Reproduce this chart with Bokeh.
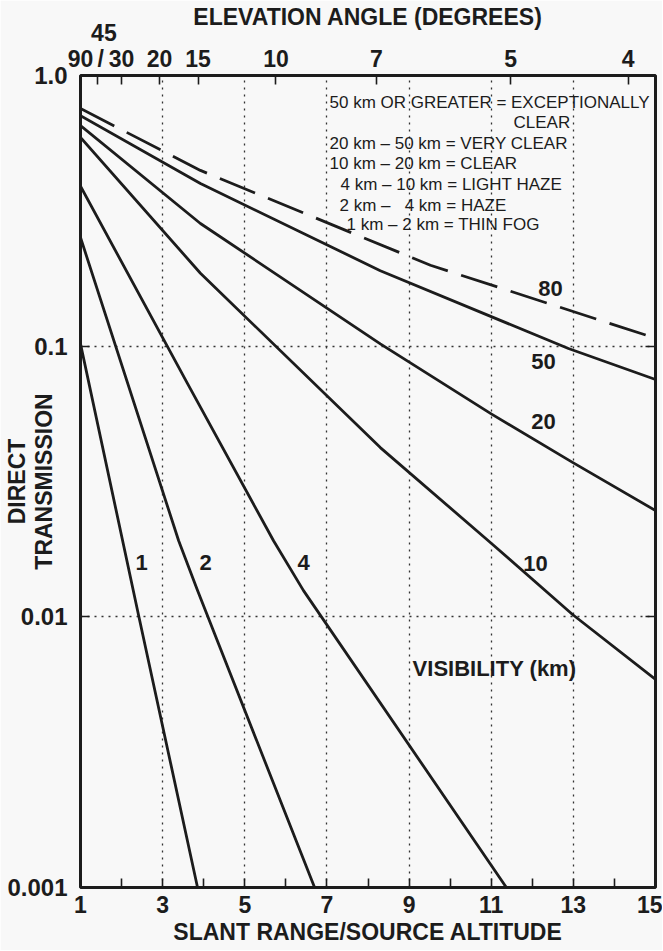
import math
from bokeh.plotting import figure
from bokeh.models import LinearAxis, LogAxis, FixedTicker, Range1d, Label
from bokeh.embed import file_html
from bokeh.resources import INLINE

# ---------------- data ----------------
visibility_km = [1, 2, 4, 10, 20, 50, 80]

range_vis1 = [1.0, 2.41, 3.85]
trans_vis1 = [0.102, 0.0102, 0.001]
range_vis2 = [1.0, 3.39, 3.85, 6.70]
trans_vis2 = [0.252, 0.0191, 0.0125, 0.001]
range_vis4 = [1.0, 3.6, 5.7, 6.43, 11.37]
trans_vis4 = [0.39, 0.073, 0.0191, 0.0125, 0.001]
range_vis10 = [1.0, 3.92, 8.3, 11.0, 12.98, 15.0]
trans_vis10 = [0.59, 0.186, 0.0422, 0.0187, 0.0102, 0.00587]
range_vis20 = [1.0, 3.92, 8.3, 11.0, 12.98, 15.0]
trans_vis20 = [0.653, 0.284, 0.102, 0.0562, 0.0372, 0.0247]
range_vis50 = [1.0, 3.92, 8.3, 12.88, 15.0]
trans_vis50 = [0.711, 0.399, 0.19, 0.098, 0.0753]
range_vis80 = [1.0, 3.92, 9.52, 15.0]
trans_vis80 = [0.755, 0.446, 0.199, 0.107]

x_major_ticks = [1, 3, 5, 7, 9, 11, 13, 15]
x_minor_ticks = [2, 4, 6, 8, 10, 12, 14]
x_grid_ticks = [3, 5, 7, 9, 11, 13]
y_ticks = [0.001, 0.01, 0.1, 1.0]
y_tick_labels = ["0.001", "0.01", "0.1", "1.0"]
y_grid_ticks = [0.01, 0.1]

NB = "\u00a0"
elevation_deg = [90, 45, 30, 20, 15, 10, 7, 5, 4]
elevation_labels = ["90", NB + NB + "45\n" + NB + "/", "30", "20", "15", "10", "7", "5", "4"]

legend_lines = [
    "50 km OR GREATER = EXCEPTIONALLY",
    "CLEAR",
    "20 km \u2013 50 km = VERY CLEAR",
    "10 km \u2013 20 km = CLEAR",
    "4 km \u2013 10 km = LIGHT HAZE",
    "2 km \u2013" + NB + "\u2007" + "4 km = HAZE",
    "1 km \u2013 2 km = THIN FOG",
]

# ---------------- styling ----------------
INK = "#1c1c1c"
BG = "#f8f8f8"
FONT = "Liberation Sans"

p = figure(width=662, height=950, x_range=Range1d(1, 15), y_range=Range1d(0.001, 1.0),
           y_axis_type="log", output_backend="svg", toolbar_location=None,
           min_border_left=80, min_border_right=7, min_border_top=75, min_border_bottom=63,
           background_fill_color=BG, border_fill_color=BG)
p.outline_line_color = INK
p.outline_line_width = 3

# curves
curves = [
    (range_vis1, trans_vis1, "solid"),
    (range_vis2, trans_vis2, "solid"),
    (range_vis4, trans_vis4, "solid"),
    (range_vis10, trans_vis10, "solid"),
    (range_vis20, trans_vis20, "solid"),
    (range_vis50, trans_vis50, "solid"),
    (range_vis80, trans_vis80, "38 14"),
]
for xs, ys, dash in curves:
    p.line(xs, ys, line_color=INK, line_width=2.8, line_dash=dash, line_join="round")

# bottom axis
xa = p.xaxis[0]
xa.ticker = FixedTicker(ticks=x_major_ticks, minor_ticks=x_minor_ticks)
xa.major_tick_in = 9
xa.major_tick_out = 0
xa.minor_tick_in = 9
xa.minor_tick_out = 0
xa.major_tick_line_width = 1.6
xa.minor_tick_line_width = 1.6
xa.major_tick_line_color = INK
xa.minor_tick_line_color = INK
xa.axis_line_color = None
xa.major_label_standoff = 8
xa.major_label_text_font = FONT
xa.major_label_text_font_style = "bold"
xa.major_label_text_font_size = "23px"
xa.major_label_text_color = INK
xa.axis_label = "SLANT RANGE/SOURCE ALTITUDE"
xa.axis_label_standoff = 3
xa.axis_label_text_font = FONT
xa.axis_label_text_font_style = "bold"
xa.axis_label_text_font_size = "23px"
xa.axis_label_text_color = INK

# left axis (title tucked between the tick labels)
ya = p.yaxis[0]
ya.ticker = FixedTicker(ticks=y_ticks, minor_ticks=[])
ya.major_label_overrides = {t: s for t, s in zip(y_ticks, y_tick_labels)}
ya.major_tick_in = 9
ya.major_tick_out = 0
ya.major_tick_line_width = 1.6
ya.major_tick_line_color = INK
ya.axis_line_color = None
ya.major_label_standoff = 13
ya.major_label_text_font = FONT
ya.major_label_text_font_style = "bold"
ya.major_label_text_font_size = "24px"
ya.major_label_text_color = INK
ya.axis_label = "DIRECT\nTRANSMISSION"
ya.axis_label_standoff = -53
ya.axis_label_text_font = FONT
ya.axis_label_text_font_style = "bold"
ya.axis_label_text_font_size = "23px"
ya.axis_label_text_line_height = 1.05
ya.axis_label_text_color = INK

# right axis (ticks only)
ra = LogAxis(ticker=FixedTicker(ticks=y_grid_ticks, minor_ticks=[]),
             major_tick_in=10, major_tick_out=0, major_tick_line_width=1.6,
             major_tick_line_color=INK, axis_line_color=None,
             major_label_text_font_size="2px", major_label_text_alpha=0,
             major_label_standoff=0)
p.add_layout(ra, "right")

# top axis: elevation angle, at slant range = 1/sin(elevation)
elev_pos = [1.0 / math.sin(math.radians(e)) for e in elevation_deg]
ta = LinearAxis(ticker=FixedTicker(ticks=elev_pos, minor_ticks=[]),
                major_label_overrides={pos: lab for pos, lab in zip(elev_pos, elevation_labels)},
                major_tick_in=9, major_tick_out=0, major_tick_line_width=1.6,
                major_tick_line_color=INK, axis_line_color=None,
                major_label_standoff=4, major_label_text_font=FONT,
                major_label_text_font_style="bold", major_label_text_font_size="23px",
                major_label_text_line_height=1.0, major_label_text_color=INK,
                axis_label="ELEVATION ANGLE (DEGREES)", axis_label_standoff=-13,
                axis_label_text_font=FONT, axis_label_text_font_style="bold",
                axis_label_text_font_size="23px", axis_label_text_color=INK)
p.add_layout(ta, "above")

# grid
p.xgrid.ticker = FixedTicker(ticks=x_grid_ticks)
p.ygrid.ticker = FixedTicker(ticks=y_grid_ticks)
for g in (p.xgrid[0], p.ygrid[0]):
    g.grid_line_color = "#333333"
    g.grid_line_width = 1.3
    g.grid_line_dash = "2 5"


def add_text(text, dx, dy, size="23px", style="bold", align="center"):
    """Place text at a screen offset (dx right, dy down) from the frame's top-left corner."""
    p.add_layout(Label(x=1, y=1.0, x_offset=dx, y_offset=-dy, text=text,
                       text_font=FONT, text_font_style=style, text_font_size=size,
                       text_color=INK, text_align=align, text_baseline="middle"))


# legend text block
legend_pos = [(249, 27), (433, 47), (249, 68), (249, 88), (260, 109), (259, 130), (266, 149)]
for txt, (dx, dy) in zip(legend_lines, legend_pos):
    add_text(txt, dx, dy, size="17px", style="normal", align="left")

# curve labels
curve_label_pos = [(61, 487), (125, 487), (223, 487), (455, 488), (463, 346), (463, 286), (470, 213)]
for vis, (dx, dy) in zip(visibility_km, curve_label_pos):
    add_text(str(vis), dx, dy, size="22px")

add_text("VISIBILITY (km)", 414, 593, size="22px")

open("out.html", "w").write(file_html(p, INLINE))
